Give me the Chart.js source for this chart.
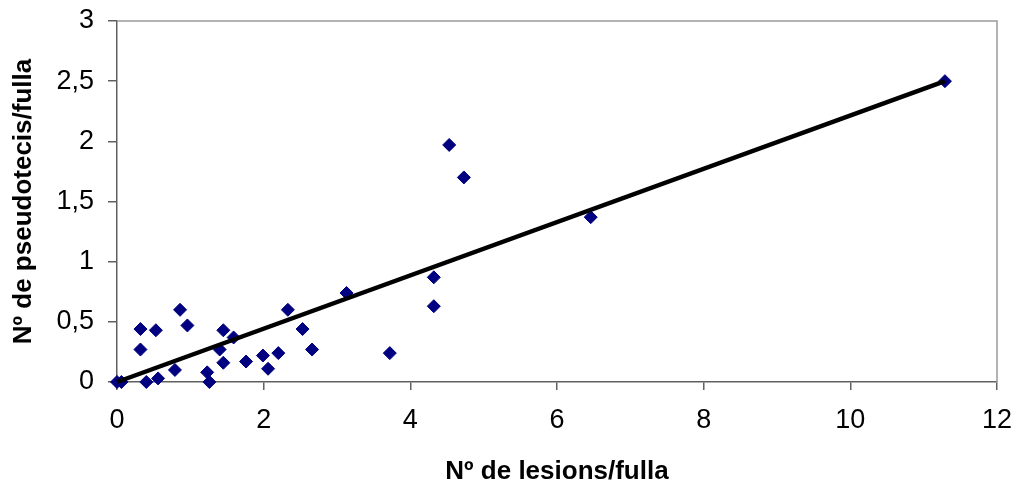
<!DOCTYPE html>
<html>
<head>
<meta charset="utf-8">
<script src="https://cdn.jsdelivr.net/npm/chart.js@4.4.1/dist/chart.umd.min.js"></script>
<style>
  html, body { margin: 0; padding: 0; background: #fff; }
  #wrap { width: 1018px; height: 488px; position: relative; }
</style>
</head>
<body>
<div id="wrap"><canvas id="c"></canvas></div>
<script>
// Lesions per leaf (x) and pseudothecia per leaf (y) for each sampled leaf
const lesions = [0, 0.06, 0.32, 0.32, 0.40, 0.53, 0.56, 0.79, 0.86, 0.96, 1.23, 1.26, 1.40, 1.45, 1.45, 1.59, 1.76, 1.99, 2.06, 2.20, 2.33, 2.53, 2.66, 3.13, 3.72, 4.32, 4.32, 4.53, 4.73, 6.46, 11.29];
const pseudotecis = [0, 0, 0.44, 0.27, 0, 0.43, 0.03, 0.10, 0.60, 0.47, 0.08, 0, 0.27, 0.43, 0.16, 0.37, 0.17, 0.22, 0.11, 0.24, 0.60, 0.44, 0.27, 0.74, 0.24, 0.87, 0.63, 1.97, 1.70, 1.37, 2.50];

// Linear trend line end points
const trendX = [0, 11.29];
const trendY = [0, 2.50];

// Axis tick values
const xTicks = [0, 2, 4, 6, 8, 10, 12];
const yTicks = [0, 0.5, 1, 1.5, 2, 2.5, 3];

const points = lesions.map((x, i) => ({ x: x, y: pseudotecis[i] }));
const trend = trendX.map((x, i) => ({ x: x, y: trendY[i] }));

const fmt = v => String(v).replace('.', ',');

// Grey frame around the plot area (top and right sides)
const plotFrame = {
  id: 'plotFrame',
  beforeDatasetsDraw(chart) {
    const { ctx, chartArea: a } = chart;
    ctx.save();
    ctx.strokeStyle = '#9a9a9a';
    ctx.lineWidth = 1.5;
    ctx.beginPath();
    ctx.moveTo(a.left, a.top);
    ctx.lineTo(a.right, a.top);
    ctx.lineTo(a.right, a.bottom);
    ctx.stroke();
    ctx.restore();
  }
};

const tickFont = { family: '"Liberation Sans", Arial, sans-serif', size: 27 };
const titleFont = { family: '"Liberation Sans", Arial, sans-serif', size: 26, weight: 'bold' };

new Chart(document.getElementById('c'), {
  type: 'scatter',
  data: {
    datasets: [
      {
        type: 'line',
        label: 'Tendència',
        data: trend,
        borderColor: '#000',
        borderWidth: 4.5,
        pointRadius: 0,
        fill: false,
        order: 0,
        clip: false
      },
      {
        label: 'Fulles',
        data: points,
        pointStyle: 'rectRot',
        pointRadius: 6.5,
        pointBackgroundColor: '#000080',
        pointBorderColor: '#000080',
        pointBorderWidth: 1,
        order: 1,
        clip: false
      }
    ]
  },
  options: {
    responsive: true,
    maintainAspectRatio: false,
    animation: false,
    events: [],
    layout: { padding: { left: 0, top: 21, right: 21, bottom: 0 } },
    plugins: { legend: { display: false }, tooltip: { enabled: false } },
    scales: {
      x: {
        type: 'linear',
        min: 0, max: 12,
        afterBuildTicks: s => { s.ticks = xTicks.map(v => ({ value: v })); },
        afterFit: s => { s.height = 106; s.paddingLeft = 0; s.paddingRight = 0; },
        grid: { drawOnChartArea: false, drawTicks: true, tickLength: 8, color: '#606060', lineWidth: 1.5 },
        border: { color: '#606060', width: 1.5 },
        ticks: { color: '#000', font: tickFont, padding: 14, callback: fmt, maxRotation: 0 },
        title: { display: true, text: 'Nº de lesions/fulla', color: '#000', font: titleFont, padding: { top: 0, bottom: 1 } }
      },
      y: {
        type: 'linear',
        min: 0, max: 3,
        afterBuildTicks: s => { s.ticks = yTicks.map(v => ({ value: v })); },
        afterFit: s => { s.width = 117; s.paddingTop = 0; s.paddingBottom = 0; },
        grid: { drawOnChartArea: false, drawTicks: true, tickLength: 9, color: '#606060', lineWidth: 1.5 },
        border: { color: '#606060', width: 1.5 },
        ticks: { color: '#000', font: tickFont, padding: 14, callback: fmt },
        title: { display: true, text: 'Nº de pseudotecis/fulla', color: '#000', font: titleFont, padding: { top: 8, bottom: 0 } }
      }
    }
  },
  plugins: [plotFrame]
});
</script>
</body>
</html>
